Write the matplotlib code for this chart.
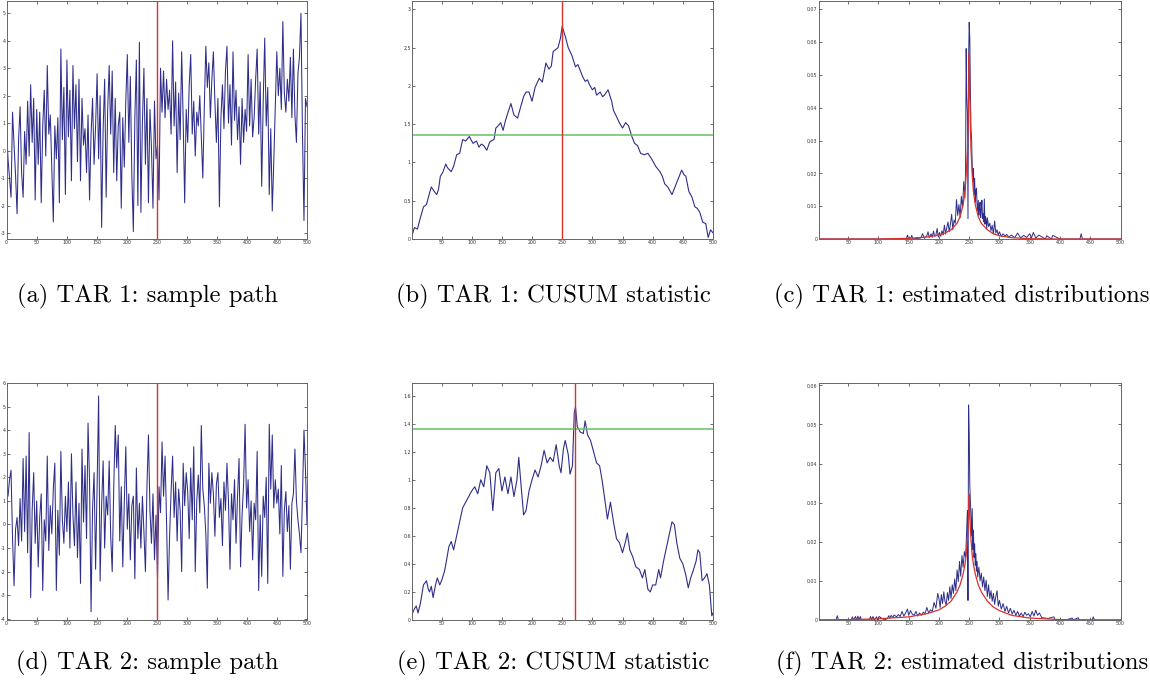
import numpy as np
import matplotlib
matplotlib.use("Agg")
import matplotlib.pyplot as plt
from matplotlib.ticker import FuncFormatter

# ---------------- data ----------------
tar1_path = [
    0.8, -0.3, -1.0, -1.7, 1.4, 0.2, -0.9, -2.3, 0.4, 1.6,
    -0.8, -1.7, 0.7, -0.5, 1.8, -0.2, 2.4, 0.3, 1.9, -1.8,
    1.5, -0.5, 1.4, -1.9, 0.9, 2.2, -0.2, 3.1, 0.6, 1.3,
    -0.6, -2.6, 0.9, -0.3, 1.2, -1.9, 3.7, 0.4, 2.3, -1.6,
    3.3, 0.5, 2.2, -1.1, 3.1, 0.8, 2.4, -0.4, 2.6, -1.1,
    1.9, 0.2, 0.8, -0.8, 1.3, -1.8, 0.6, 1.9, -0.5, 0.9,
    2.8, -0.3, 2.0, -2.8, 0.8, 2.6, -1.7, 1.5, 3.1, 0.6,
    2.9, -0.8, 1.9, -1.1, 0.9, 1.4, -2.1, 1.2, -0.6, 1.8,
    3.5, 0.3, 2.7, -0.9, -2.95, 1.2, 3.3, -2.0, 3.95, -2.25,
    1.0, 3.0, -0.5, 1.9, -1.9, 1.5, 0.1, -2.1, 1.8, -0.3,
    0.2, -1.8, 3.0, 1.4, 2.9, 1.2, 2.6, 1.5, 2.2, 0.6,
    4.0, 0.9, 2.5, -0.8, 2.1, 0.4, 3.6, 1.1, -1.9, 1.5,
    0.3, 2.4, 3.5, 0.6, 1.8, -0.2, 1.4, 0.9, 2.0, 0.5,
    -1.0, 1.6, 3.8, 2.3, 3.2, 1.2, 2.6, 3.6, 1.8, 0.3,
    1.9, -2.05, 1.2, 2.4, 0.8, 2.9, 3.8, 1.0, 2.4, 0.2,
    3.6, 1.1, 2.2, 0.4, 1.6, -0.5, 1.9, 0.3, 1.5, 0.7,
    3.5, 0.9, 2.6, 0.5, 1.2, 2.6, 3.7, 0.6, 2.5, -1.3,
    1.8, 4.1, 0.9, 2.3, -1.6, 0.8, -2.2, -0.4, 1.6, 3.6,
    2.0, 3.0, 1.5, 4.7, 2.1, 1.4, 2.6, 1.8, 3.4, 1.2,
    3.7, 1.3, 0.3, 2.8, 3.4, 5.0, 0.6, -2.55, 1.9, 1.6,
]

tar2_path = [
    1.8, 1.2, 1.9, 2.3, -0.6, -2.6, -0.2, 0.3, -0.9, 1.1,
    -0.7, 2.8, -0.3, 2.9, -1.2, 3.9, -3.1, 0.6, 2.2, -0.8,
    1.0, -1.8, 0.3, 1.3, -2.8, 0.2, -0.7, 2.9, -1.1, 0.8,
    -0.4, 1.5, 2.6, -2.8, 0.6, -1.3, 3.1, 0.2, -0.8, 1.2,
    -0.3, 1.8, -1.0, 3.0, 0.4, -0.9, 1.8, -1.4, 0.9, -2.5,
    3.2, 0.1, 2.5, -0.6, 4.3, 1.8, -3.7, 0.7, 2.2, -1.9,
    1.6, 5.45, -2.4, 0.8, 2.7, -1.0, 1.2, 0.4, 2.7, -0.5,
    -2.0, 1.5, 4.2, 2.4, 3.8, -0.7, 1.6, -1.8, 0.9, 3.3,
    -0.2, 1.3, -1.5, 0.8, 1.2, -2.3, 2.4, -0.6, 0.9, -1.0,
    1.2, -0.3, -2.0, 1.6, 3.8, 0.6, -0.8, 1.3, -1.5, 0.4,
    -2.3, 1.6, 0.5, 3.5, 1.2, 2.9, 0.1, -3.2, -0.5, 1.4,
    2.9, 0.3, 1.8, -0.7, 1.5, 0.6, -2.0, 2.6, 0.8, 2.2,
    1.4, -0.6, 2.4, 0.2, 3.3, -2.0, 1.0, 2.1, 0.5, 4.2,
    1.5, 0.8, -0.4, -2.7, 2.6, 0.9, 2.2, 1.3, -0.5, 1.7,
    2.2, 0.3, 1.1, -0.9, 1.8, 0.6, 2.6, 1.0, -1.9, 1.3,
    0.2, 1.9, -0.8, 1.2, 2.8, -1.8, 0.4, 1.7, 4.25, 0.7,
    1.9, -0.3, 1.0, -1.5, 0.9, 0.2, 3.1, -2.8, 0.4, -2.2,
    1.2, 0.3, 2.0, -2.5, 4.25, 1.5, 3.8, 0.7, 1.9, 0.9,
    1.5, -0.4, 2.5, -2.2, 0.6, 1.4, -0.3, 0.8, -1.9, 0.9,
    1.3, 3.2, 1.0, 0.2, -0.4, -1.2, 1.2, 4.0, 2.3, 0.0,
]

cusum1_t = [0, 5, 10, 15, 20, 25, 30, 33, 38, 42,
            45, 48, 52, 57, 60, 66, 70, 75, 80, 85,
            90, 96, 102, 108, 112, 116, 120, 125, 130, 137,
            140, 144, 148, 152, 156, 160, 165, 170, 176, 182,
            186, 190, 195, 200, 205, 212, 217, 223, 228, 232,
            235, 240, 243, 247, 250, 253, 255, 260, 266, 272,
            276, 280, 284, 288, 292, 295, 300, 304, 307, 313,
            317, 320, 326, 330, 332, 335, 340, 346, 350, 355,
            360, 365, 370, 375, 380, 386, 392, 398, 405, 412,
            416, 420, 425, 432, 437, 443, 448, 452, 455, 460,
            465, 470, 474, 478, 483, 488, 492, 496, 500]
cusum1_v = [0.02, 0.15, 0.13, 0.28, 0.42, 0.45, 0.60, 0.68, 0.62, 0.58,
            0.65, 0.82, 0.87, 0.98, 0.93, 0.88, 0.95, 1.10, 1.12, 1.30,
            1.28, 1.34, 1.25, 1.28, 1.20, 1.24, 1.22, 1.16, 1.27, 1.30,
            1.45, 1.48, 1.52, 1.42, 1.55, 1.65, 1.77, 1.62, 1.58, 1.75,
            1.86, 1.92, 1.92, 1.80, 1.98, 2.10, 2.05, 2.30, 2.22, 2.26,
            2.45, 2.48, 2.50, 2.62, 2.78, 2.70, 2.65, 2.50, 2.40, 2.25,
            2.28, 2.20, 2.12, 2.06, 2.08, 2.02, 1.95, 1.98, 1.88, 1.92,
            1.86, 1.88, 1.95, 1.85, 1.80, 1.68, 1.60, 1.50, 1.45, 1.52,
            1.48, 1.35, 1.25, 1.22, 1.12, 1.10, 1.12, 1.05, 0.95, 0.88,
            0.82, 0.72, 0.68, 0.58, 0.68, 0.80, 0.90, 0.84, 0.82, 0.62,
            0.55, 0.42, 0.40, 0.35, 0.22, 0.20, 0.02, 0.12, 0.08]

cusum2_t = [0, 5, 8, 11, 15, 20, 25, 28, 30, 33,
            36, 40, 43, 47, 50, 55, 58, 62, 66, 70,
            75, 80, 85, 90, 95, 100, 105, 110, 115, 120,
            125, 130, 135, 140, 145, 150, 155, 160, 165, 170,
            175, 178, 182, 186, 190, 195, 200, 205, 210, 215,
            220, 225, 230, 235, 240, 245, 248, 252, 255, 260,
            263, 267, 270, 272, 275, 280, 285, 288, 292, 297,
            302, 307, 312, 316, 320, 325, 330, 335, 340, 345,
            350, 355, 358, 362, 367, 372, 378, 383, 387, 392,
            396, 400, 405, 410, 413, 418, 422, 427, 432, 436,
            440, 445, 450, 455, 459, 463, 467, 472, 475, 478,
            482, 486, 490, 494, 498, 500]
cusum2_v = [0.03, 0.08, 0.10, 0.05, 0.12, 0.25, 0.28, 0.22, 0.20, 0.24,
            0.16, 0.25, 0.30, 0.25, 0.28, 0.35, 0.42, 0.52, 0.56, 0.50,
            0.60, 0.70, 0.80, 0.84, 0.88, 0.92, 0.95, 0.90, 1.00, 0.95,
            1.10, 1.05, 0.78, 1.05, 1.08, 0.92, 1.02, 0.90, 1.02, 0.88,
            1.00, 1.16, 0.95, 0.75, 0.78, 0.92, 1.00, 1.07, 1.02, 1.10,
            1.21, 1.12, 1.16, 1.13, 1.25, 1.10, 1.05, 1.22, 1.28, 1.18,
            1.04, 1.10, 1.48, 1.52, 1.38, 1.34, 1.33, 1.42, 1.32, 1.28,
            1.20, 1.12, 1.10, 1.00, 0.88, 0.72, 0.84, 0.70, 0.58, 0.55,
            0.48, 0.56, 0.62, 0.50, 0.45, 0.38, 0.36, 0.30, 0.36, 0.22,
            0.20, 0.25, 0.25, 0.36, 0.30, 0.42, 0.50, 0.60, 0.70, 0.68,
            0.55, 0.44, 0.40, 0.32, 0.23, 0.30, 0.35, 0.42, 0.50, 0.48,
            0.28, 0.30, 0.33, 0.25, 0.03, 0.05]

dist1_t = [1, 60, 120, 146, 148, 150, 153, 155, 157, 170,
           173, 176, 180, 182, 184, 187, 189, 191, 193, 195,
           197, 199, 201, 203, 205, 207, 209, 211, 213, 215,
           217, 219, 221, 223, 225, 227, 229, 231, 233, 235,
           237, 239, 241, 243, 244, 245, 246, 247, 248, 249,
           250, 251, 252, 253, 254, 255, 256, 257, 258, 259,
           260, 261, 262, 263, 264, 265, 266, 267, 268, 269,
           270, 271, 272, 273, 274, 275, 276, 277, 278, 279,
           280, 282, 284, 286, 288, 290, 292, 294, 296, 298,
           300, 303, 306, 309, 312, 315, 320, 325, 330, 335,
           340, 345, 350, 353, 356, 360, 365, 376, 378, 386,
           388, 400, 433, 435, 437, 460, 500]
dist1_v = [0, 0, 0, 0, 0.0012, 0, 0, 0.0011, 0, 0.0003,
           0.0016, 0.0002, 0.001, 0.0022, 0.0004, 0.0016, 0.0005, 0.0024, 0.0008, 0.0012,
           0.0032, 0.0006, 0.002, 0.0008, 0.0025, 0.0012, 0.0042, 0.0015, 0.0035, 0.0052,
           0.0022, 0.0045, 0.0075, 0.0028, 0.0058, 0.0048, 0.012, 0.0072, 0.0105, 0.0065,
           0.013, 0.0095, 0.0175, 0.0125, 0.021, 0.058, 0.043, 0.0385, 0.0062, 0.0545,
           0.066, 0.061, 0.045, 0.0335, 0.0305, 0.022, 0.0178, 0.0215, 0.0135, 0.0185,
           0.0112, 0.0148, 0.0155, 0.0105, 0.0085, 0.0118, 0.0072, 0.0098, 0.0112, 0.0065,
           0.0088, 0.0118, 0.0062, 0.0078, 0.0052, 0.0122, 0.0045, 0.0068, 0.0058, 0.0032,
           0.0065, 0.0038, 0.0048, 0.0025, 0.0042, 0.0015, 0.0055, 0.0018, 0.0028, 0.0012,
           0.0022, 0.0008, 0.0016, 0.0009, 0.0014, 0.0006, 0.0012, 0.0004, 0.0018, 0.0003,
           0.0011, 0.0005, 0.0016, 0.0004, 0.002, 0.0003, 0.0012, 0, 0.001, 0,
           0.0011, 0, 0, 0.0016, 0, 0, 0]

fit1_t = [1, 100, 150, 180, 200, 210, 220, 230, 235, 240,
          243, 245, 247, 248, 249, 250, 251, 252, 253, 255,
          257, 260, 265, 270, 280, 290, 300, 320, 350, 400,
          500]
fit1_v = [0.0, 0.0, 0.0002, 0.0006, 0.0012, 0.0018, 0.0028, 0.0048, 0.0068, 0.0105,
          0.0145, 0.0195, 0.027, 0.034, 0.044, 0.0565, 0.044, 0.034, 0.027, 0.0195,
          0.0145, 0.0105, 0.0068, 0.0048, 0.0028, 0.0016, 0.001, 0.0004, 0.0001, 0.0,
          0.0]

dist2_t = [1, 30, 32, 34, 55, 57, 59, 62, 64, 66,
           68, 70, 72, 85, 87, 89, 91, 93, 97, 99,
           101, 110, 115, 117, 119, 121, 124, 126, 130, 133,
           136, 139, 142, 145, 148, 150, 153, 156, 159, 162,
           165, 168, 171, 174, 177, 180, 183, 186, 189, 192,
           195, 198, 200, 202, 204, 206, 208, 210, 212, 214,
           216, 218, 220, 222, 224, 226, 228, 230, 232, 234,
           236, 238, 240, 242, 244, 245, 246, 247, 248, 249,
           250, 251, 252, 253, 254, 255, 256, 257, 258, 259,
           260, 261, 262, 263, 264, 266, 268, 270, 272, 274,
           276, 278, 280, 282, 284, 286, 288, 290, 292, 294,
           296, 298, 300, 303, 306, 309, 312, 315, 318, 321,
           324, 327, 330, 333, 336, 339, 342, 345, 348, 351,
           354, 357, 360, 363, 366, 370, 380, 390, 392, 400,
           410, 420, 422, 430, 432, 440, 453, 455, 457, 470,
           500]
dist2_v = [0, 0, 0.0011, 0, 0, 0.0008, 0, 0.0009, 0, 0.001,
           0, 0.0009, 0, 0, 0.0009, 0, 0.0009, 0, 0.0008, 0,
           0.0009, 0, 0.0004, 0.0011, 0.0005, 0.0012, 0.0006, 0.0013, 0.0008, 0.0014,
           0.0009, 0.0022, 0.001, 0.0018, 0.0028, 0.0012, 0.0024, 0.0015, 0.0012, 0.0022,
           0.001, 0.0018, 0.0012, 0.002, 0.0016, 0.0032, 0.0018, 0.0026, 0.0022, 0.0045,
           0.003, 0.0068, 0.0055, 0.0032, 0.0065, 0.0042, 0.0072, 0.0048, 0.0038, 0.007,
           0.005, 0.0085, 0.0055, 0.009, 0.0068, 0.0105, 0.0075, 0.0128, 0.0098, 0.015,
           0.0112, 0.0165, 0.0135, 0.0175, 0.016, 0.0195, 0.024, 0.028, 0.005, 0.055,
           0.048, 0.0345, 0.03, 0.0255, 0.0215, 0.0285, 0.018, 0.023, 0.016, 0.0195,
           0.014, 0.017, 0.0125, 0.015, 0.011, 0.0135, 0.01, 0.012, 0.0085, 0.011,
           0.0075, 0.0102, 0.006, 0.009, 0.0055, 0.0075, 0.0048, 0.0068, 0.004, 0.006,
           0.0075, 0.0035, 0.005, 0.0028, 0.0042, 0.0022, 0.0035, 0.0018, 0.003, 0.0015,
           0.0025, 0.0012, 0.0022, 0.001, 0.0018, 0.0008, 0.002, 0.0012, 0.0016, 0.0008,
           0.0022, 0.001, 0.0025, 0.0012, 0.0018, 0.0006, 0.0004, 0.0008, 0, 0,
           0, 0.0005, 0, 0.0006, 0, 0, 0, 0.0008, 0, 0,
           0]

fit2_t = [1, 50, 100, 150, 180, 200, 210, 220, 230, 235,
          240, 243, 245, 247, 248, 249, 250, 251, 252, 253,
          255, 257, 260, 265, 270, 280, 290, 300, 320, 350,
          400, 450, 500]
fit2_v = [0.0, 0.0001, 0.0003, 0.0008, 0.0016, 0.0026, 0.0035, 0.0048, 0.0072, 0.0090,
          0.0118, 0.0142, 0.0165, 0.0205, 0.0232, 0.0265, 0.0322, 0.0265, 0.0232, 0.0205,
          0.0165, 0.0142, 0.0118, 0.0090, 0.0072, 0.0048, 0.0033, 0.0024, 0.0012, 0.0005,
          0.0001, 0.0, 0.0]

change_points = [250, 250, 250, 250, 272, 250]   # vertical red lines
threshold = 1.36                                  # green line (CUSUM critical value)

captions = ["(a) TAR 1: sample path", "(b) TAR 1: CUSUM statistic",
            "(c) TAR 1: estimated distributions",
            "(d) TAR 2: sample path", "(e) TAR 2: CUSUM statistic",
            "(f) TAR 2: estimated distributions"]

# ---------------- styling ----------------
BLUE = "#2e2e8a"
RED = "#d8322c"
GREEN = "#66c066"
FRAME = "#666666"

fig = plt.figure(figsize=(11.5, 6.87), dpi=100)
W, H = 1150.0, 687.0


def make_ax(l, t, r, b):
    return fig.add_axes([l / W, 1 - b / H, (r - l) / W, (b - t) / H])


def comma_fmt(v, pos):
    s = "%g" % round(v, 6)
    return s.replace(".", ",")


def style(ax, xlim, ylim, yticks, xticks):
    ax.set_xlim(*xlim)
    ax.set_ylim(*ylim)
    ax.set_xticks(xticks)
    ax.set_yticks(yticks)
    ax.yaxis.set_major_formatter(FuncFormatter(comma_fmt))
    ax.xaxis.set_major_formatter(FuncFormatter(comma_fmt))
    ax.tick_params(direction="in", length=2.5, width=0.5, labelsize=3.4,
                   top=True, right=True, pad=0.8, colors="#333333")
    for sp in ax.spines.values():
        sp.set_color(FRAME)
        sp.set_linewidth(0.7)


row_tb = [(1, 239), (383, 620)]
col_lr = [(6.5, 307), (412, 713), (818.5, 1120.5)]

axes = [[make_ax(col_lr[c][0], row_tb[r][0], col_lr[c][1], row_tb[r][1])
         for c in range(3)] for r in range(2)]

paths = [tar1_path, tar2_path]
cus_t = [cusum1_t, cusum2_t]
cus_v = [cusum1_v, cusum2_v]
dist_t = [dist1_t, dist2_t]
dist_v = [dist1_v, dist2_v]
fit_t = [fit1_t, fit2_t]
fit_v = [fit1_v, fit2_v]

path_ylim = [(-3.22, 5.45), (-4.05, 6.0)]
path_yt = [np.arange(-3, 6, 1), np.arange(-4, 7, 1)]
cus_ylim = [(0, 3.11), (0, 1.69)]
cus_yt = [np.arange(0, 3.01, 0.5), np.arange(0, 1.61, 0.2)]
dist_ylim = [(0, 0.0725), (0, 0.0606)]
dist_yt = [np.arange(0, 0.0701, 0.01), np.arange(0, 0.0601, 0.01)]

for r in range(2):
    ax = axes[r][0]
    y = paths[r]
    x = np.linspace(0, 500, len(y))
    ax.plot(x, y, color=BLUE, lw=0.75)
    ax.axvline(change_points[3 * r], color=RED, lw=1.0)
    style(ax, (0, 500), path_ylim[r], path_yt[r], np.arange(0, 501, 50))

    ax = axes[r][1]
    ax.plot(cus_t[r], cus_v[r], color=BLUE, lw=0.8)
    ax.axhline(threshold, color=GREEN, lw=1.1)
    ax.axvline(change_points[3 * r + 1], color=RED, lw=1.0)
    style(ax, (1, 500), cus_ylim[r], cus_yt[r], np.arange(50, 501, 50))

    ax = axes[r][2]
    ax.plot(dist_t[r], dist_v[r], color=BLUE, lw=0.7)
    ax.plot(fit_t[r], fit_v[r], color=RED, lw=0.9)
    style(ax, (1, 500), dist_ylim[r], dist_yt[r], np.arange(50, 501, 50))

# captions: centred below each panel, sized so "(a) ..." is ~261 px wide
cap_cx = [147.5, 553.5, 962]
cap_y = [296, 663]
renderer = fig.canvas.get_renderer()
probe = fig.text(0, 0, captions[0], family="cmr10", fontsize=10)
w10 = probe.get_window_extent(renderer).width
probe.remove()
cap_size = 10 * 261.0 / w10
for i, cap in enumerate(captions):
    r, c = divmod(i, 3)
    fig.text(cap_cx[c] / W, 1 - cap_y[r] / H, cap, family="cmr10", fontsize=cap_size,
             ha="center", va="center", color="black")

fig.savefig("out.png", dpi=100)
